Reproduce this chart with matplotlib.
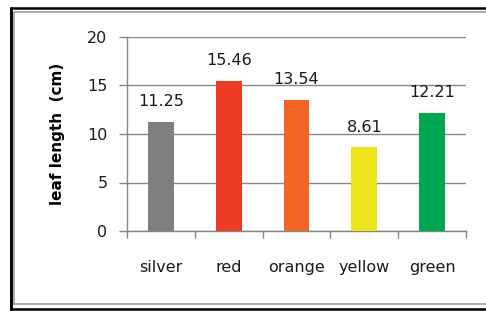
import matplotlib
matplotlib.use("Agg")
from matplotlib import pyplot as plt
from matplotlib.lines import Line2D
import numpy as np

# leaf length by leaf colour
colours = ["silver", "red", "orange", "yellow", "green"]
lengths = [11.25, 15.46, 13.54, 8.61, 12.21]
bar_colors = ["#7f7f7f", "#ee3b24", "#f26524", "#ece51b", "#00a650"]
y_ticks = [0, 5, 10, 15, 20]

plt.rcParams["font.family"] = ["DejaVu Sans"]

fig = plt.figure(figsize=(4.86, 3.11), dpi=100)
ax = fig.add_axes([127 / 486, 1 - 231 / 311, (466 - 127) / 486, (231 - 37) / 311])

x = np.arange(len(colours))
ax.bar(x, lengths, width=0.38, color=bar_colors, zorder=3)

# value labels above the bars
for i, v in enumerate(lengths):
    ax.text(i, v + 1.3, f"{v:.2f}", ha="center", va="bottom", fontsize=11.5, color="#1a1a1a")

ax.set_xlim(-0.5, len(colours) - 0.5)
ax.set_ylim(0, 20)
ax.set_yticks(y_ticks)
ax.set_xticks(x)
ax.set_xticklabels(colours)
ax.set_xticks(np.arange(-0.5, len(colours)), minor=True)
ax.tick_params(axis="x", which="major", length=0, pad=21, labelsize=11.5, labelcolor="#1a1a1a")
ax.tick_params(axis="x", which="minor", length=5, width=1, color="#868686", direction="out")
ax.tick_params(axis="y", length=6, width=1, color="#868686", pad=8, labelsize=11.5, labelcolor="#1a1a1a")

ax.grid(axis="y", color="#868686", linewidth=1, zorder=0)
for side in ["top", "right"]:
    ax.spines[side].set_visible(False)
for side in ["left", "bottom"]:
    ax.spines[side].set_color("#868686")
    ax.spines[side].set_linewidth(1)

ax.set_ylabel("leaf length  (cm)", fontsize=11, fontweight="bold", labelpad=16)

# chart border: black outer line, gray inner line
W, H = 486, 311
def fig_line(xs, ys, **kw):
    fig.add_artist(Line2D([v / W for v in xs], [1 - v / H for v in ys], transform=fig.transFigure, **kw))

fig_line([10.5, 10.5, W], [W, 7.5, 7.5], color="black", linewidth=1.8)
fig_line([10.5, W], [308.5, 308.5], color="black", linewidth=1.8)
fig_line([10.5, 10.5], [7.5, 308.5], color="black", linewidth=1.8)
fig_line([13.5, 13.5, W], [304, 12, 12], color="#a0a0a0", linewidth=1.2)
fig_line([13.5, W], [304, 304], color="#a0a0a0", linewidth=1.2)

fig.savefig("out.png", dpi=100)
